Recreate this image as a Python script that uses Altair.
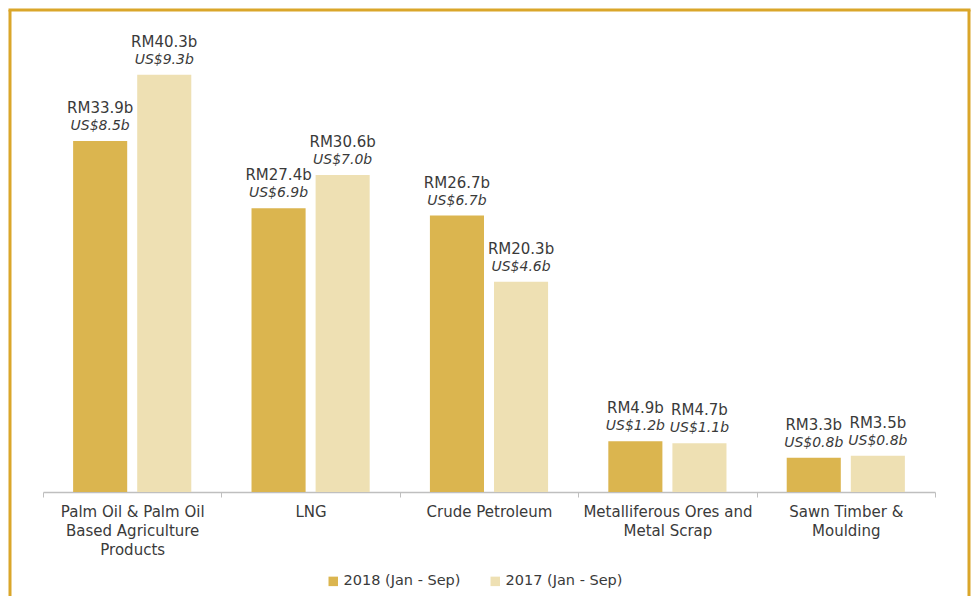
import altair as alt
import pandas as pd

categories = [
    "Palm Oil & Palm Oil|Based Agriculture|Products",
    "LNG",
    "Crude Petroleum",
    "Metalliferous Ores and|Metal Scrap",
    "Sawn Timber &|Moulding",
]
series = ["2018 (Jan - Sep)", "2017 (Jan - Sep)"]
rm_2018 = [33.9, 27.4, 26.7, 4.9, 3.3]
rm_2017 = [40.3, 30.6, 20.3, 4.7, 3.5]
us_2018 = [8.5, 6.9, 6.7, 1.2, 0.8]
us_2017 = [9.3, 7.0, 4.6, 1.1, 0.8]
colors = ["#DBB54F", "#EEE0B3"]

rows = []
for i, c in enumerate(categories):
    rows.append({"cat": c, "series": series[0], "rm": rm_2018[i], "us": us_2018[i]})
    rows.append({"cat": c, "series": series[1], "rm": rm_2017[i], "us": us_2017[i]})
df = pd.DataFrame(rows)

FONT = "DejaVu Sans"
TXT = "#3a3a3a"

x_enc = alt.X(
    "cat:N",
    sort=categories,
    scale=alt.Scale(paddingInner=0, paddingOuter=0),
    axis=alt.Axis(
        title=None,
        labelAngle=0,
        labelExpr="split(datum.label, '|')",
        labelFont=FONT,
        labelFontSize=15,
        labelColor=TXT,
        labelLineHeight=19,
        labelLimit=300,
        labelPadding=7,
        tickBand="extent",
        tickSize=5,
        tickColor="#BFBFBF",
        domainColor="#BFBFBF",
        domainWidth=1.5,
        grid=False,
    ),
)
xoff = alt.XOffset(
    "series:N",
    sort=series,
    scale=alt.Scale(paddingInner=0.156, paddingOuter=0.47),
)
y_enc = alt.Y("rm:Q", scale=alt.Scale(domain=[0, 45]), axis=None)

base = alt.Chart(df)

bars = base.mark_bar().encode(
    x=x_enc,
    xOffset=xoff,
    y=y_enc,
    color=alt.Color(
        "series:N",
        sort=series,
        scale=alt.Scale(domain=series, range=colors),
        legend=alt.Legend(
            title=None,
            orient="none",
            direction="horizontal",
            legendX=283,
            legendY=548,
            symbolType="square",
            symbolSize=90,
            symbolStrokeWidth=0,
            labelFont=FONT,
            labelFontSize=14.5,
            labelColor=TXT,
            columnPadding=27,
            labelOffset=3,
            padding=0,
        ),
    ),
)

rm_text = base.mark_text(
    dy=-33, baseline="middle", font=FONT, fontSize=15, color=TXT
).transform_calculate(
    lab="'RM' + format(datum.rm, '.1f') + 'b'"
).encode(x=x_enc, xOffset=xoff, y=y_enc, text="lab:N")

us_text = base.mark_text(
    dy=-15, baseline="middle", font=FONT, fontSize=14, fontStyle="italic", color=TXT
).transform_calculate(
    lab="'US$' + format(datum.us, '.1f') + 'b'"
).encode(x=x_enc, xOffset=xoff, y=y_enc, text="lab:N")

frame_df = pd.DataFrame({"k": [0]})
BORDER = "#DAA62A"
frame_left = alt.Chart(frame_df).mark_rule(color=BORDER, strokeWidth=3).encode(
    x=alt.value(-33), y=alt.value(-16), y2=alt.value(620)
)
frame_top = alt.Chart(frame_df).mark_rule(color=BORDER, strokeWidth=3).encode(
    x=alt.value(-34.5), x2=alt.value(927.5), y=alt.value(-16)
)
frame_right = alt.Chart(frame_df).mark_rule(color=BORDER, strokeWidth=3).encode(
    x=alt.value(926), y=alt.value(-16), y2=alt.value(620)
)

chart = (
    alt.layer(bars, rm_text, us_text, frame_left, frame_top, frame_right)
    .properties(
        width=892,
        height=466,
        autosize=alt.AutoSizeParams(type="none"),
        padding={"left": 35, "top": 18, "right": 36, "bottom": 104},
        background="white",
    )
    .configure_view(stroke=None)
)

chart.save("out.html", embed_options={"renderer": "svg", "actions": False})
